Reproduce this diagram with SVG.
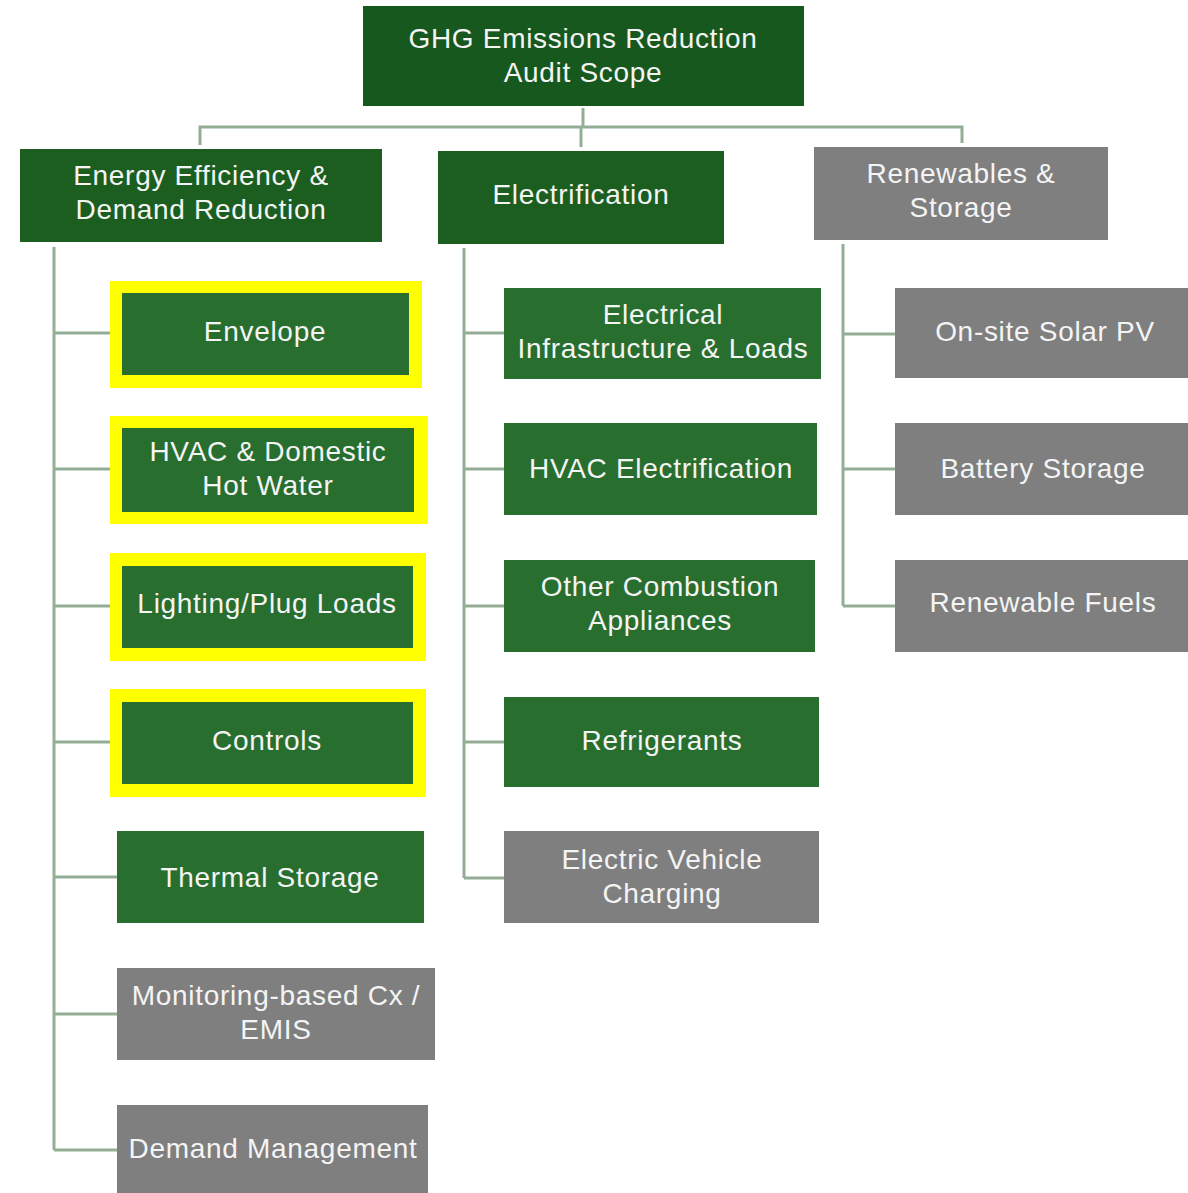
<svg xmlns="http://www.w3.org/2000/svg" width="1188" height="1193" viewBox="0 0 1188 1193">
<style>
.root{fill:#16581e}
.l1{fill:#1b5e20}
.g{fill:#276e2f}
.gr{fill:#7f7f7f}
.hl{fill:#ffff00}
text{font-family:"Liberation Sans",Arial,sans-serif;font-size:28px;letter-spacing:0.7px;fill:#f4f4f4;text-anchor:middle}
.c{fill:none;stroke:#93ae95;stroke-width:3}
</style>
<rect width="1188" height="1193" fill="#ffffff"/>
<g id="connectors">
<path class="c" d="M583,108 V127 M200,145 V127 H962 V143 M581,127 V147"/>
<path class="c" d="M54,247 V1150 M54,333 H110 M54,469 H110 M54,606 H110 M54,742 H110 M54,877 H117 M54,1014 H117 M54,1150 H117"/>
<path class="c" d="M464,248 V878 M464,333 H504 M464,469 H504 M464,606 H504 M464,742 H504 M464,878 H504"/>
<path class="c" d="M843,244 V606 M843,334 H895 M843,469 H895 M843,606 H895"/>
</g>
<g id="root"><rect class="root" x="363" y="6" width="441" height="100"/><text x="583" y="48">GHG Emissions Reduction</text><text x="583" y="82">Audit Scope</text></g>
<g id="energy"><rect class="l1" x="20" y="149" width="362" height="93"/><text x="201" y="185">Energy Efficiency &amp;</text><text x="201" y="219">Demand Reduction</text></g>
<g id="electrification"><rect class="l1" x="438" y="151" width="286" height="93"/><text x="581" y="204">Electrification</text></g>
<g id="renewables"><rect class="gr" x="814" y="147" width="294" height="93"/><text x="961" y="183">Renewables &amp;</text><text x="961" y="217">Storage</text></g>
<g id="envelope"><rect class="hl" x="110" y="281" width="312" height="107"/><rect class="g" x="122" y="293" width="287" height="82"/><text x="265" y="341">Envelope</text></g>
<g id="hvac"><rect class="hl" x="110" y="416" width="318" height="108"/><rect class="g" x="122" y="428" width="292" height="84"/><text x="268" y="461">HVAC &amp; Domestic</text><text x="268" y="495">Hot Water</text></g>
<g id="lighting"><rect class="hl" x="110" y="553" width="316" height="108"/><rect class="g" x="122" y="566" width="291" height="82"/><text x="267" y="613">Lighting/Plug Loads</text></g>
<g id="controls"><rect class="hl" x="110" y="689" width="316" height="108"/><rect class="g" x="122" y="702" width="291" height="82"/><text x="267" y="750">Controls</text></g>
<g id="thermal"><rect class="g" x="117" y="831" width="307" height="92"/><text x="270" y="887">Thermal Storage</text></g>
<g id="mbcx"><rect class="gr" x="117" y="968" width="318" height="92"/><text x="276" y="1005">Monitoring-based Cx /</text><text x="276" y="1039">EMIS</text></g>
<g id="demand"><rect class="gr" x="117" y="1105" width="311" height="88"/><text x="273" y="1158">Demand Management</text></g>
<g id="elecinfra"><rect class="g" x="504" y="288" width="317" height="91"/><text x="663" y="324">Electrical</text><text x="663" y="358">Infrastructure &amp; Loads</text></g>
<g id="hvacelec"><rect class="g" x="504" y="423" width="313" height="92"/><text x="661" y="478">HVAC Electrification</text></g>
<g id="combustion"><rect class="g" x="504" y="560" width="311" height="92"/><text x="660" y="596">Other Combustion</text><text x="660" y="630">Appliances</text></g>
<g id="refrigerants"><rect class="g" x="504" y="697" width="315" height="90"/><text x="662" y="750">Refrigerants</text></g>
<g id="ev"><rect class="gr" x="504" y="831" width="315" height="92"/><text x="662" y="869">Electric Vehicle</text><text x="662" y="903">Charging</text></g>
<g id="solar"><rect class="gr" x="895" y="288" width="293" height="90"/><text x="1045" y="341">On-site Solar PV</text></g>
<g id="battery"><rect class="gr" x="895" y="423" width="293" height="92"/><text x="1043" y="478">Battery Storage</text></g>
<g id="fuels"><rect class="gr" x="895" y="560" width="293" height="92"/><text x="1043" y="612">Renewable Fuels</text></g>
</svg>
